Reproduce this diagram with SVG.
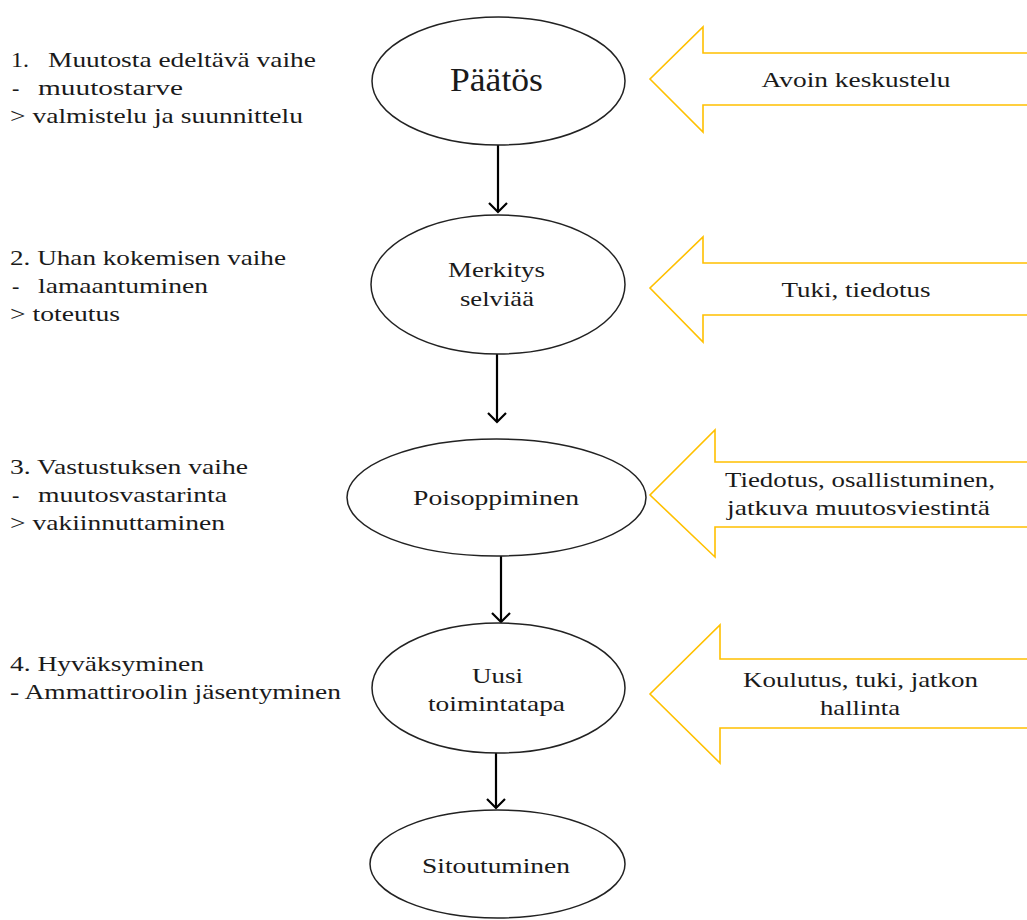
<svg xmlns="http://www.w3.org/2000/svg" width="1027" height="920" viewBox="0 0 1027 920">
<style>
text{font-family:"Liberation Serif","DejaVu Serif",serif;fill:#1a1a1a;font-size:22px}
.node ellipse{fill:#fff;stroke:#222;stroke-width:1.5}
.c{text-anchor:middle}
.big{font-size:33px}
.ya{fill:#fff;stroke:#FFC000;stroke-width:1.6;stroke-linejoin:miter}
.conn line{stroke:#000;stroke-width:2.2}
</style>
<defs>
<marker id="ah" markerWidth="20" markerHeight="20" refX="10" refY="10" orient="auto" markerUnits="userSpaceOnUse">
<path d="M1,1 L10,10 L1,19" fill="none" stroke="#000" stroke-width="2.2"/>
</marker>
</defs>
<rect width="1027" height="920" fill="#fff"/>

<g id="phase-texts">
<text y="67"><tspan x="11" textLength="18" lengthAdjust="spacingAndGlyphs">1.</tspan><tspan x="48" textLength="268" lengthAdjust="spacingAndGlyphs">Muutosta edeltävä vaihe</tspan></text>
<text y="95"><tspan x="12">-</tspan><tspan x="38" textLength="145" lengthAdjust="spacingAndGlyphs">muutostarve</tspan></text>
<text x="10" y="123" textLength="293" lengthAdjust="spacingAndGlyphs">&gt; valmistelu ja suunnittelu</text>

<text x="10" y="265" textLength="276" lengthAdjust="spacingAndGlyphs">2. Uhan kokemisen vaihe</text>
<text y="293"><tspan x="12">-</tspan><tspan x="38" textLength="170" lengthAdjust="spacingAndGlyphs">lamaantuminen</tspan></text>
<text x="10" y="321" textLength="110" lengthAdjust="spacingAndGlyphs">&gt; toteutus</text>

<text x="10" y="474" textLength="238" lengthAdjust="spacingAndGlyphs">3. Vastustuksen vaihe</text>
<text y="502"><tspan x="12">-</tspan><tspan x="38" textLength="189" lengthAdjust="spacingAndGlyphs">muutosvastarinta</tspan></text>
<text x="10" y="530" textLength="215" lengthAdjust="spacingAndGlyphs">&gt; vakiinnuttaminen</text>

<text x="10" y="671" textLength="194" lengthAdjust="spacingAndGlyphs">4. Hyväksyminen</text>
<text x="10" y="699" textLength="331" lengthAdjust="spacingAndGlyphs">- Ammattiroolin jäsentyminen</text>
</g>

<g id="support-arrows">
<g id="arrow-1">
<path class="ya" d="M1030,53 L703,53 L703,27 L650,79 L703,132 L703,105 L1030,105"/>
<text class="c" x="856" y="87" textLength="189" lengthAdjust="spacingAndGlyphs">Avoin keskustelu</text>
</g>
<g id="arrow-2">
<path class="ya" d="M1030,263 L703,263 L703,237 L650,288 L703,342 L703,315 L1030,315"/>
<text class="c" x="856" y="297" textLength="149" lengthAdjust="spacingAndGlyphs">Tuki, tiedotus</text>
</g>
<g id="arrow-3">
<path class="ya" d="M1030,462 L715,462 L715,430 L650,495 L715,557 L715,527 L1030,527"/>
<text class="c" x="860" y="487" textLength="270" lengthAdjust="spacingAndGlyphs">Tiedotus, osallistuminen,</text>
<text class="c" x="858.5" y="515" textLength="263" lengthAdjust="spacingAndGlyphs">jatkuva muutosviestintä</text>
</g>
<g id="arrow-4">
<path class="ya" d="M1030,659 L720,659 L720,625 L650,694 L720,763 L720,728 L1030,728"/>
<text class="c" x="860.5" y="687" textLength="235" lengthAdjust="spacingAndGlyphs">Koulutus, tuki, jatkon</text>
<text class="c" x="860" y="715" textLength="80" lengthAdjust="spacingAndGlyphs">hallinta</text>
</g>
</g>

<g class="conn" id="connectors">
<line x1="498" y1="145" x2="498" y2="212" marker-end="url(#ah)"/>
<line x1="497" y1="354" x2="497" y2="422" marker-end="url(#ah)"/>
<line x1="501" y1="556" x2="501" y2="622" marker-end="url(#ah)"/>
<line x1="496" y1="753" x2="496" y2="808" marker-end="url(#ah)"/>
</g>

<g class="node" id="node-paatos">
<ellipse cx="498.5" cy="81" rx="126.5" ry="64"/>
<text class="c big" x="496.5" y="91" textLength="93" lengthAdjust="spacingAndGlyphs">Päätös</text>
</g>
<g class="node" id="node-merkitys">
<ellipse cx="498" cy="284.5" rx="127" ry="69.5"/>
<text class="c" x="496.5" y="277" textLength="97" lengthAdjust="spacingAndGlyphs">Merkitys</text>
<text class="c" x="497" y="306" textLength="74" lengthAdjust="spacingAndGlyphs">selviää</text>
</g>
<g class="node" id="node-poisoppiminen">
<ellipse cx="496.5" cy="497.5" rx="149.5" ry="58.5"/>
<text class="c" x="496" y="505" textLength="166" lengthAdjust="spacingAndGlyphs">Poisoppiminen</text>
</g>
<g class="node" id="node-uusi">
<ellipse cx="498.5" cy="688" rx="126.5" ry="65"/>
<text class="c" x="497.5" y="683" textLength="51" lengthAdjust="spacingAndGlyphs">Uusi</text>
<text class="c" x="496.5" y="711" textLength="137" lengthAdjust="spacingAndGlyphs">toimintatapa</text>
</g>
<g class="node" id="node-sitoutuminen">
<ellipse cx="497.5" cy="864" rx="127.5" ry="54"/>
<text class="c" x="496" y="873" textLength="148" lengthAdjust="spacingAndGlyphs">Sitoutuminen</text>
</g>
</svg>
